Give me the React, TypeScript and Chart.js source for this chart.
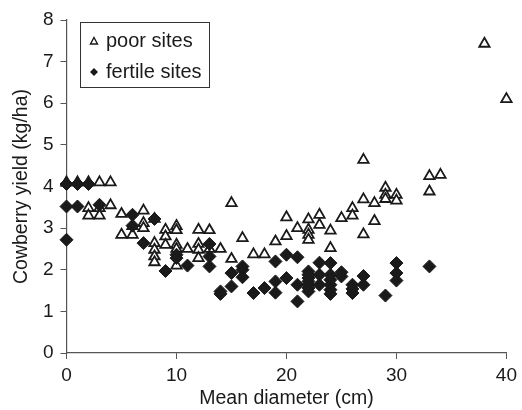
import { useEffect, useRef } from 'react';
import { Chart, registerables } from 'chart.js';

Chart.register(...registerables);

const poorX = [0, 1, 2, 3, 4, 2, 2, 3, 3, 4, 5, 5, 6, 6, 7, 7, 7, 8, 8, 8, 8, 8, 9, 9, 9, 10, 10, 10, 10, 10, 11, 12, 12, 12, 12, 13, 13, 14, 15, 15, 16, 17, 18, 19, 20, 20, 21, 22, 22, 22, 22, 23, 23, 24, 24, 25, 26, 26, 27, 27, 27, 28, 28, 29, 29, 29, 30, 30, 33, 33, 34, 38, 40];
const poorY = [4.1, 4.1, 4.1, 4.1, 4.1, 3.48, 3.3, 3.48, 3.3, 3.55, 3.34, 2.84, 2.84, 3.05, 3.42, 3.12, 3.0, 3.22, 2.64, 2.48, 2.32, 2.18, 2.96, 2.8, 2.6, 3.05, 2.95, 2.6, 2.5, 2.1, 2.5, 2.96, 2.62, 2.48, 2.28, 2.95, 2.5, 2.5, 3.6, 2.26, 2.76, 2.37, 2.37, 2.68, 3.26, 2.81, 3.0, 3.21, 2.96, 2.84, 2.72, 3.32, 3.08, 2.94, 2.52, 3.24, 3.48, 3.3, 4.64, 3.69, 2.85, 3.6, 3.17, 3.97, 3.8, 3.7, 3.8, 3.66, 4.25, 3.88, 4.28, 7.43, 6.1];

const fertileX = [0, 1, 2, 0, 1, 3, 0, 6, 6, 7, 8, 9, 10, 10, 11, 13, 13, 13, 14, 14, 15, 15, 16, 16, 16, 17, 18, 19, 19, 19, 20, 20, 21, 21, 21, 22, 22, 22, 22, 22, 22, 22, 23, 23, 23, 24, 24, 24, 24, 24, 24, 25, 25, 26, 26, 26, 27, 27, 29, 30, 30, 30, 33];
const fertileY = [4.06, 4.06, 4.06, 3.52, 3.52, 3.56, 2.72, 3.32, 3.06, 2.64, 3.22, 1.97, 2.36, 2.28, 2.1, 2.62, 2.32, 2.08, 1.42, 1.48, 1.92, 1.6, 2.08, 2.0, 1.82, 1.44, 1.56, 2.2, 1.72, 1.45, 2.36, 1.8, 2.3, 1.64, 1.24, 1.96, 1.88, 1.8, 1.72, 1.64, 1.56, 1.48, 2.17, 1.88, 1.64, 2.16, 1.88, 1.76, 1.64, 1.52, 1.42, 1.94, 1.84, 1.64, 1.54, 1.44, 1.85, 1.64, 1.38, 2.16, 1.92, 1.74, 2.08];

const xTicks = [0, 10, 20, 30, 40];
const yTicks = [0, 1, 2, 3, 4, 5, 6, 7, 8];
const legendLabels = ['poor sites', 'fertile sites'];
const xTitle = 'Mean diameter (cm)';
const yTitle = 'Cowberry yield (kg/ha)';

const FONT = '"Liberation Sans", Arial, sans-serif';
const INK = '#1a1a1a';
const AXIS = '#555555';

const legendBoxPlugin = {
  id: 'legendBox',
  afterDraw(chart: any) {
    const ctx = chart.ctx;
    ctx.save();
    ctx.strokeStyle = '#333';
    ctx.lineWidth = 1;
    ctx.strokeRect(80.5, 22.5, 129, 65);
    ctx.lineWidth = 1.4;
    ctx.strokeStyle = INK;
    ctx.fillStyle = '#fff';
    ctx.beginPath();
    ctx.moveTo(94, 37.5);
    ctx.lineTo(97.5, 44);
    ctx.lineTo(90.5, 44);
    ctx.closePath();
    ctx.fill();
    ctx.stroke();
    ctx.fillStyle = INK;
    ctx.beginPath();
    ctx.moveTo(94, 68);
    ctx.lineTo(98, 72);
    ctx.lineTo(94, 76);
    ctx.lineTo(90, 72);
    ctx.closePath();
    ctx.fill();
    ctx.font = `20px ${FONT}`;
    ctx.textBaseline = 'middle';
    ctx.textAlign = 'left';
    ctx.fillStyle = INK;
    ctx.fillText(legendLabels[0], 106, 41);
    ctx.fillText(legendLabels[1], 106, 72);
    ctx.restore();
  },
};

export default function App() {
  const ref = useRef<HTMLCanvasElement | null>(null);
  useEffect(() => {
    document.body.style.margin = '0';
    const canvas = ref.current;
    if (!canvas) return;
    const chart = new Chart(canvas, {
      type: 'scatter',
      data: {
        datasets: [
          {
            label: legendLabels[1],
            data: fertileX.map((x, i) => ({ x, y: fertileY[i] })),
            pointStyle: 'rectRot',
            pointRadius: 6.5,
            backgroundColor: INK,
            borderColor: INK,
            borderWidth: 1,
            clip: false,
            order: 0,
          },
          {
            label: legendLabels[0],
            data: poorX.map((x, i) => ({ x, y: poorY[i] })),
            pointStyle: 'triangle',
            pointRadius: 6,
            backgroundColor: '#ffffff',
            borderColor: INK,
            borderWidth: 1.8,
            clip: false,
            order: 1,
          },
        ],
      },
      options: {
        responsive: false,
        animation: false,
        devicePixelRatio: 1,
        layout: { padding: { top: 20, right: 12.5, left: 0, bottom: 0 } },
        plugins: { legend: { display: false }, tooltip: { enabled: false } },
        scales: {
          x: {
            type: 'linear',
            min: 0,
            max: 40,
            afterBuildTicks: (s: any) => {
              s.ticks = xTicks.map((v) => ({ value: v }));
            },
            afterFit: (s: any) => {
              s.height = 57;
            },
            grid: { display: true, drawOnChartArea: false, drawTicks: true, tickLength: 6, color: AXIS, lineWidth: 1 },
            border: { display: true, color: AXIS, width: 1.2 },
            ticks: { color: INK, font: { family: FONT, size: 19 }, padding: 5, maxRotation: 0 },
            title: { display: true, text: xTitle, color: INK, font: { family: FONT, size: 19.5 }, padding: { top: 0, bottom: 0 } },
          },
          y: {
            type: 'linear',
            min: 0,
            max: 8,
            afterBuildTicks: (s: any) => {
              s.ticks = yTicks.map((v) => ({ value: v }));
            },
            afterFit: (s: any) => {
              s.width = 66.5;
            },
            grid: { display: true, drawOnChartArea: false, drawTicks: true, tickLength: 6, color: AXIS, lineWidth: 1 },
            border: { display: true, color: AXIS, width: 1.2 },
            ticks: { color: INK, font: { family: FONT, size: 19 }, padding: 7 },
            title: { display: true, text: yTitle, color: INK, font: { family: FONT, size: 19.5 }, padding: { top: 10, bottom: 0 } },
          },
        },
      },
      plugins: [legendBoxPlugin],
    });
    return () => chart.destroy();
  }, []);
  return <canvas ref={ref} width={522} height={410} style={{ display: 'block' }} />;
}
